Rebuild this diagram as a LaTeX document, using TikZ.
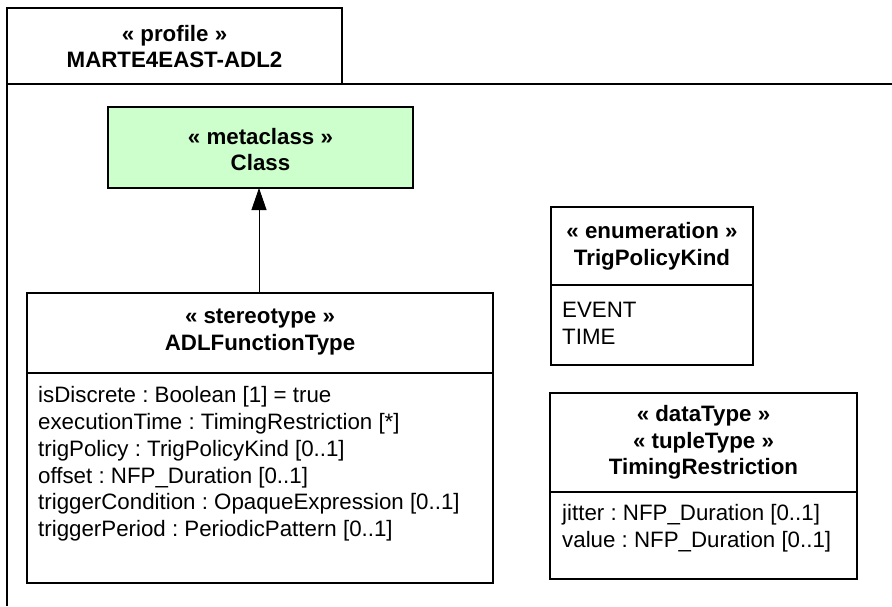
\documentclass[tikz,border=0pt]{standalone}
\usepackage{fontspec}
\setmainfont{Liberation Sans}
\usetikzlibrary{arrows.meta}
\definecolor{metagreen}{HTML}{CCFFCC}
\frenchspacing
\begin{document}
\begin{tikzpicture}[x=1pt,y=-1pt,
  box/.style={draw=black, line width=1.1pt, anchor=north west, inner sep=0pt, outer sep=0pt},
  sep/.style={draw=black, line width=1.1pt},
  pkg/.style={draw=black, line width=1.1pt},
  hd/.style={font=\fontsize{22.3}{26.5}\selectfont\bfseries\frenchspacing, align=center, inner sep=0pt},
  att/.style={font=\fontsize{22.3}{26.8}\selectfont\frenchspacing, align=left, anchor=west, inner sep=0pt},
  gen/.style={draw=black, line width=0.8pt, -{Triangle[length=22pt,width=15pt]}}]
\useasboundingbox (0,0) rectangle (892,606);
% package frame
\draw[pkg] (7,606) -- (7,84) -- (892,84);
\node[box, minimum width=335pt, minimum height=76pt] (tab) at (7,8) {};
\node[hd] (tabtxt) at (174.5,46.5) {« profile »\\MARTE4EAST-ADL2};
% metaclass
\node[box, fill=metagreen, minimum width=305pt, minimum height=81pt] (cls) at (108,107) {};
\node[hd] (clstxt) at (260.5,149.5) {« metaclass »\\Class};
% stereotype
\node[box, minimum width=466pt, minimum height=290pt] (adl) at (27,293) {};
\node[hd] (adltxt) at (260,332) {« stereotype »\\ADLFunctionType};
\draw[sep] (27,373) -- (493,373);
\node[att] (adlatt) at (38,464) {isDiscrete : Boolean [1] = true\\executionTime : TimingRestriction [*]\\trigPolicy : TrigPolicyKind [0..1]\\offset : NFP\_Duration [0..1]\\triggerCondition : OpaqueExpression [0..1]\\triggerPeriod : PeriodicPattern [0..1]};
% enumeration
\node[box, minimum width=202pt, minimum height=158pt] (enum) at (551,207) {};
\node[hd] (enumtxt) at (652,246.5) {« enumeration »\\TrigPolicyKind};
\draw[sep] (551,285) -- (753,285);
\node[att] (enumatt) at (562,323) {EVENT\\TIME};
% datatype
\node[box, minimum width=307pt, minimum height=186pt] (tim) at (550,393) {};
\node[hd] (timtxt) at (703.5,442.5) {« dataType »\\« tupleType »\\TimingRestriction};
\draw[sep] (550,492) -- (857,492);
\node[att] (timatt) at (562,528.5) {jitter : NFP\_Duration [0..1]\\value : NFP\_Duration [0..1]};
% generalization
\draw[gen] (adl.north -| 259,0) -- (cls.south -| 259,0);
\end{tikzpicture}
\end{document}
